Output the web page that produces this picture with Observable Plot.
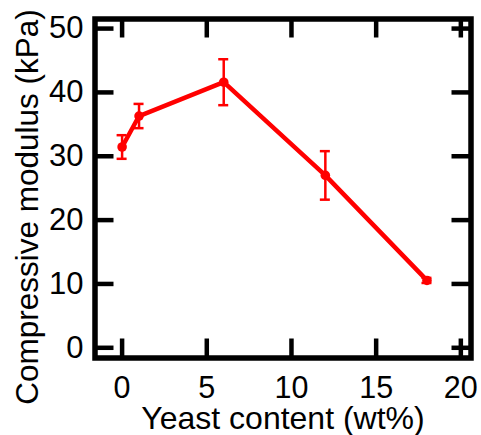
<!DOCTYPE html>
<html>
<head>
<meta charset="utf-8">
<script src="https://cdn.jsdelivr.net/npm/d3@7"></script>
<script src="https://cdn.jsdelivr.net/npm/@observablehq/plot@0.6"></script>
<style>
  html, body { margin: 0; padding: 0; background: #fff; }
</style>
</head>
<body>
<div id="chart"></div>
<script>
// Data
const yeastContent = [0, 1, 6, 12, 18];            // wt%
const modulus      = [31.45, 36.3, 41.6, 27.0, 10.55]; // kPa
const modulusErr   = [1.85, 1.9, 3.6, 3.8, 0.4];   // kPa (error bar half-length)

const xTicks = [0, 5, 10, 15, 20];
const yTicks = [0, 10, 20, 30, 40, 50];

const xLabel = "Yeast content (wt%)";
const yLabel = "Compressive modulus (kPa)";

const data = yeastContent.map((x, i) => ({
  x, y: modulus[i], lo: modulus[i] - modulusErr[i], hi: modulus[i] + modulusErr[i]
}));

const red = "#ff0000";
const font = "'Liberation Sans', Arial, Helvetica, sans-serif";

const chart = Plot.plot({
  width: 481,
  height: 435,
  marginLeft: 94.5,
  marginRight: 10.5,
  marginTop: 18.5,
  marginBottom: 77.5,
  style: {fontFamily: font, fontSize: "31px", background: "#fff", color: "#000"},
  x: {domain: [-1.6, 20.6]},
  y: {domain: [-1.6, 51.5]},
  marks: [
    // tick labels
    Plot.axisX(xTicks, {tickSize: 0, tickPadding: 18, label: null, fontSize: 30.5}),
    Plot.axisY(yTicks, {tickSize: 0, tickPadding: 11.5, label: null, fontSize: 31}),
    // inward ticks on all four sides
    Plot.tickX(xTicks, {x: d => d, insetTop: 320, strokeWidth: 4.5}),
    Plot.tickX(xTicks, {x: d => d, insetBottom: 320, strokeWidth: 4.5}),
    Plot.tickY(yTicks, {y: d => d, insetRight: 357, strokeWidth: 4.5}),
    Plot.tickY(yTicks, {y: d => d, insetLeft: 357, strokeWidth: 4.5}),
    Plot.frame({strokeWidth: 5.5}),
    // axis titles
    Plot.text([xLabel], {text: d => d, frameAnchor: "bottom", textAnchor: "middle", lineAnchor: "bottom", dy: 71, fontSize: 32}),
    Plot.text([yLabel], {text: d => d, frameAnchor: "left", textAnchor: "middle", lineAnchor: "bottom", rotate: -90, dx: -57, dy: 18.5, fontSize: 31.5}),
    // data
    Plot.ruleX(data, {x: "x", y1: "lo", y2: "hi", stroke: red, strokeWidth: 2.5}),
    Plot.ruleY(data, {y: "hi", x1: "x", x2: "x", insetLeft: -5, insetRight: -5, stroke: red, strokeWidth: 2.5}),
    Plot.ruleY(data, {y: "lo", x1: "x", x2: "x", insetLeft: -5, insetRight: -5, stroke: red, strokeWidth: 2.5}),
    Plot.line(data, {x: "x", y: "y", stroke: red, strokeWidth: 4.5}),
    Plot.dot(data, {x: "x", y: "y", r: 4.8, fill: red})
  ]
});

document.getElementById("chart").appendChild(chart);
</script>
</body>
</html>
